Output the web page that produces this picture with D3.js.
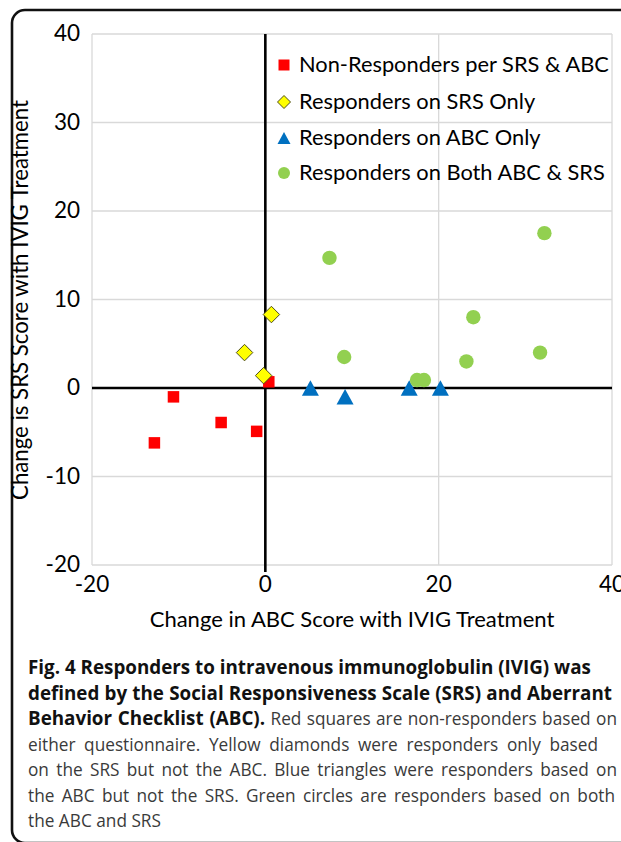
<!DOCTYPE html>
<html>
<head>
<meta charset="utf-8">
<script src="https://cdn.jsdelivr.net/npm/d3@7"></script>
<style>
  body { margin: 0; background: #fff; }
  svg { display: block; }
</style>
</head>
<body>
<svg id="chart" width="621" height="842"></svg>
<script>
// values: [change in ABC, change in SRS]
const nonResponders = [[-12.8, -6.2], [-10.6, -1.0], [-5.1, -3.9], [-1.0, -4.9], [0.4, 0.7]];
const srsOnly = [[0.7, 8.3], [-2.4, 4.0], [-0.2, 1.4]];
const abcOnly = [[5.2, 0.0], [9.2, -1.0], [16.6, 0.0], [20.2, 0.0]];
const bothResponders = [[7.4, 14.7], [9.1, 3.5], [17.5, 0.9], [18.3, 0.9], [23.2, 3.0], [24.0, 8.0], [31.7, 4.0], [32.2, 17.5]];

const seriesNames = [
    'Non-Responders per SRS & ABC',
    'Responders on SRS Only',
    'Responders on ABC Only',
    'Responders on Both ABC & SRS',
];
const xTicks = [-20, 0, 20, 40];
const yTicks = [-20, -10, 0, 10, 20, 30, 40];
const xTitle = 'Change in ABC Score with IVIG Treatment';
const yTitle = 'Change is SRS Score with IVIG Treatment';

const captionLines = [
    [['b', 'Fig. 4 Responders to intravenous immunoglobulin (IVIG) was']],
    [['b', 'defined by the Social Responsiveness Scale (SRS) and Aberrant']],
    [['b', 'Behavior Checklist (ABC).'], ['n', ' Red squares are non-responders based on']],
    [['n', 'either questionnaire. Yellow diamonds were responders only based']],
    [['n', 'on the SRS but not the ABC. Blue triangles were responders based on']],
    [['n', 'the ABC but not the SRS. Green circles are responders based on both']],
    [['n', 'the ABC and SRS']],
];
// right edge each caption line is justified to (null = ragged)
const captionLineEnds = [null, 612, 617, 598, 617, 615, null];

const chartFont = 'Lato, "Open Sans", sans-serif';
const captionFont = '"Open Sans", "Noto Sans", sans-serif';

const svg = d3.select('#chart');

// font size that makes a string span the given width
function fitSize(text, family, weight, target) {
    const t = svg.append('text')
        .style('font-family', family)
        .style('font-weight', weight)
        .style('font-size', '20px')
        .text(text);
    const w = t.node().getComputedTextLength();
    t.remove();
    return 20 * target / w;
}

// outer rounded frame
svg.append('rect')
    .attr('x', 12).attr('y', 10)
    .attr('width', 700).attr('height', 833)
    .attr('rx', 13)
    .attr('fill', 'none')
    .attr('stroke', '#111')
    .attr('stroke-width', 2.6);

const x = d3.scaleLinear().domain([-20, 40]).range([92, 612]);
const y = d3.scaleLinear().domain([-20, 40]).range([565, 34]);

// gridlines
const grid = svg.append('g').attr('stroke', '#d9d9d9').attr('stroke-width', 1.3);
grid.selectAll('line.h').data(yTicks).enter().append('line')
    .attr('class', 'h')
    .attr('x1', x(-20)).attr('x2', x(40))
    .attr('y1', d => y(d)).attr('y2', d => y(d));
grid.selectAll('line.v').data(xTicks).enter().append('line')
    .attr('class', 'v')
    .attr('x1', d => x(d)).attr('x2', d => x(d))
    .attr('y1', y(40)).attr('y2', y(-20));

// axes crossing at zero
svg.append('line')
    .attr('x1', x(-20)).attr('x2', x(40))
    .attr('y1', y(0)).attr('y2', y(0))
    .attr('stroke', '#000').attr('stroke-width', 2.6);
svg.append('line')
    .attr('x1', x(0)).attr('x2', x(0))
    .attr('y1', y(40)).attr('y2', y(-20) + 7)
    .attr('stroke', '#000').attr('stroke-width', 2.6);

const titleSize = fitSize(xTitle, chartFont, 400, 405);
const tickSize = titleSize + 0.5;

// tick labels
svg.append('g').selectAll('text').data(yTicks).enter().append('text')
    .attr('x', 80).attr('y', d => y(d) + 7)
    .attr('text-anchor', 'end')
    .style('font-family', chartFont).style('font-size', tickSize + 'px')
    .attr('fill', '#000')
    .text(d => d);
svg.append('g').selectAll('text').data(xTicks).enter().append('text')
    .attr('x', d => x(d)).attr('y', 592)
    .attr('text-anchor', 'middle')
    .style('font-family', chartFont).style('font-size', tickSize + 'px')
    .attr('fill', '#000')
    .text(d => d);

// axis titles
svg.append('text')
    .attr('x', 352).attr('y', 627)
    .attr('text-anchor', 'middle')
    .style('font-family', chartFont).style('font-size', titleSize + 'px')
    .attr('fill', '#000')
    .text(xTitle);
svg.append('text')
    .attr('transform', 'translate(28,300) rotate(-90)')
    .attr('text-anchor', 'middle')
    .style('font-family', chartFont)
    .style('font-size', fitSize(yTitle, chartFont, 400, 400) + 'px')
    .attr('fill', '#000')
    .text(yTitle);

// marker shapes (Excel style, centred on bounding box)
const squarePath = s => `M${-s / 2},${-s / 2}h${s}v${s}h${-s}Z`;
const diamondPath = s => `M0,${-s / 2}L${s / 2},0L0,${s / 2}L${-s / 2},0Z`;
const trianglePath = (w, h) => `M0,${-h / 2}L${w / 2},${h / 2}L${-w / 2},${h / 2}Z`;

const series = [
    { name: seriesNames[0], data: nonResponders, path: squarePath(11.5), legend: squarePath(11), fill: '#ff0000', stroke: 'none' },
    { name: seriesNames[1], data: srsOnly, path: diamondPath(16.5), legend: diamondPath(13), fill: '#ffff00', stroke: '#4d4d1a' },
    { name: seriesNames[2], data: abcOnly, path: trianglePath(17, 15.5), legend: trianglePath(13, 12), fill: '#0070c0', stroke: 'none' },
    { name: seriesNames[3], data: bothResponders, circle: 7.2, legendCircle: 6, fill: '#92d050', stroke: 'none' },
];

series.forEach(s => {
    const g = svg.append('g');
    if (s.circle) {
        g.selectAll('circle').data(s.data).enter().append('circle')
            .attr('cx', d => x(d[0])).attr('cy', d => y(d[1]))
            .attr('r', s.circle)
            .attr('fill', s.fill);
    } else {
        g.selectAll('path').data(s.data).enter().append('path')
            .attr('d', s.path)
            .attr('transform', d => `translate(${x(d[0])},${y(d[1])})`)
            .attr('fill', s.fill)
            .attr('stroke', s.stroke)
            .attr('stroke-width', 1);
    }
});

// legend
const legendSize = fitSize(seriesNames[0], chartFont, 400, 310);
const legendRows = [65, 102, 138, 173];
const legend = svg.append('g').selectAll('g').data(series).enter().append('g')
    .attr('transform', (d, i) => `translate(284,${legendRows[i]})`);
legend.each(function (s) {
    const g = d3.select(this);
    if (s.legendCircle) {
        g.append('circle').attr('r', s.legendCircle).attr('fill', s.fill);
    } else {
        g.append('path').attr('d', s.legend)
            .attr('fill', s.fill).attr('stroke', s.stroke).attr('stroke-width', 1);
    }
});
legend.append('text')
    .attr('x', 15).attr('y', 7)
    .style('font-family', chartFont).style('font-size', legendSize + 'px')
    .attr('fill', '#000')
    .text(s => s.name);

// caption, justified line by line with word spacing
const boldSize = fitSize(captionLines[1][0][1], captionFont, 700, 582);
const normalSize = fitSize(captionLines[2][1][1], captionFont, 400, 342);
const caption = svg.append('g');
const captionX = 28;
captionLines.forEach((line, i) => {
    const t = caption.append('text')
        .attr('x', captionX).attr('y', 674 + i * 25.5)
        .attr('xml:space', 'preserve')
        .style('font-family', captionFont);
    line.forEach(([kind, str]) => {
        t.append('tspan')
            .style('font-weight', kind === 'b' ? 700 : 400)
            .style('font-size', (kind === 'b' ? boldSize : normalSize) + 'px')
            .attr('fill', kind === 'b' ? '#111' : '#3a3a3a')
            .text(str);
    });
    const end = captionLineEnds[i];
    if (end != null) {
        const w = t.node().getComputedTextLength();
        const spaces = line.map(p => p[1]).join('').split(' ').length - 1;
        const extra = (end - captionX - w) / spaces;
        if (spaces > 0) t.style('word-spacing', extra + 'px');
    }
});
</script>
</body>
</html>
